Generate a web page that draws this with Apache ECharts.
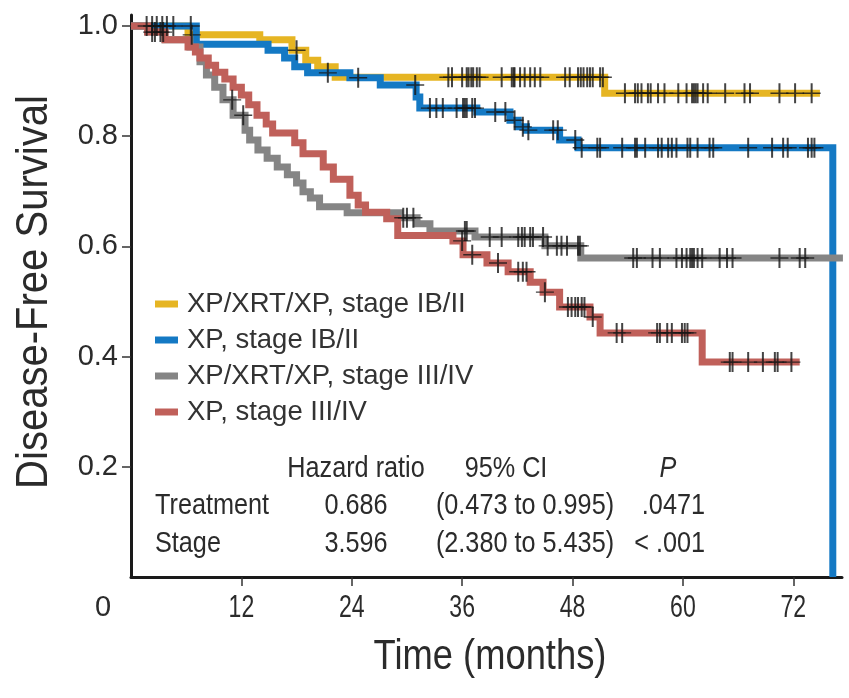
<!DOCTYPE html>
<html>
<head>
<meta charset="utf-8">
<script src="https://cdn.jsdelivr.net/npm/echarts@6/dist/echarts.min.js"></script>
<style>html,body{margin:0;padding:0;background:#fff}#c{width:849px;height:698px}</style>
</head>
<body>
<div id="c"></div>
<script>
// ---- Data (time in months, survival proportion) ----
const seriesNames = ['XP/XRT/XP, stage IB/II', 'XP, stage IB/II', 'XP/XRT/XP, stage III/IV', 'XP, stage III/IV'];

// step points: [time of event, survival after event]
const yellowSteps = [[0,1.0],[6.2,0.984],[14.0,0.975],[17.5,0.956],[19.0,0.938],[20.3,0.926],[22.2,0.907],[51.5,0.878]];
const yellowEnd = 74.9;
const yellowCensor = [1.7,2.8,3.9,6.6,18.0,34.5,34.9,36.0,36.5,36.7,37.0,37.2,37.6,37.9,40.3,41.4,41.6,41.7,42.3,42.8,43.4,43.9,44.5,47.2,47.7,48.6,48.9,49.2,49.6,49.9,50.2,51.0,51.3,53.7,54.8,55.1,55.5,56.2,56.5,57.3,58.0,59.5,60.4,61.0,61.2,61.4,61.6,62.2,62.7,64.6,66.7,67.3,70.5,72.2,74.0];

const blueSteps = [[0,1.0],[7.1,0.967],[14.9,0.956],[16.7,0.942],[17.8,0.926],[19.2,0.915],[23.8,0.906],[27.1,0.893],[31.0,0.871],[31.4,0.851],[37.6,0.844],[41.2,0.829],[42.1,0.817],[43.0,0.811],[46.6,0.793],[48.6,0.779],[76.3,0.0]];
const blueCensor = [2.3,3.4,4.6,6.5,21.4,24.7,30.9,32.5,33.2,33.9,35.4,36.1,36.3,36.5,37.1,37.4,39.6,40.7,41.7,42.6,43.2,45.9,46.4,48.3,49.0,50.7,51.0,53.4,54.8,55.0,55.9,57.3,57.7,58.4,58.8,59.3,60.5,60.8,61.6,62.9,63.3,67.1,69.7,70.9,71.4,73.6,74.0,74.3];

const graySteps = [[0,1.0],[1.8,0.989],[3.7,0.975],[6.4,0.962],[7.5,0.935],[8.2,0.911],[9.1,0.889],[10.0,0.866],[11.1,0.838],[12.4,0.811],[12.9,0.793],[13.8,0.775],[14.8,0.760],[15.9,0.744],[17.0,0.730],[18.0,0.715],[18.7,0.699],[19.5,0.688],[20.5,0.672],[23.5,0.661],[29.2,0.652],[31.1,0.641],[32.5,0.628],[37.4,0.617],[45.0,0.601],[48.9,0.579]];
const grayEnd = 77.4;
const grayCensor = [2.6,3.2,11.0,12.2,29.6,30.0,30.7,36.3,36.5,39.0,40.3,42.1,42.5,42.8,43.4,43.7,44.8,45.3,46.3,46.8,47.4,48.6,48.8,54.6,55.0,56.7,57.5,59.3,59.9,60.4,60.8,61.0,61.2,61.6,62.1,64.0,64.8,65.4,70.5,72.7,73.3,77.4];

const redSteps = [[0,1.0],[1.8,0.989],[3.7,0.975],[6.2,0.962],[7.0,0.953],[7.5,0.942],[8.4,0.929],[9.2,0.916],[10.2,0.904],[11.1,0.889],[12.0,0.875],[12.8,0.857],[13.7,0.838],[14.7,0.822],[15.4,0.806],[17.8,0.788],[18.7,0.768],[20.9,0.744],[22.0,0.722],[23.8,0.693],[24.7,0.675],[25.5,0.662],[27.8,0.650],[29.0,0.620],[35.0,0.610],[36.1,0.585],[38.7,0.570],[41.0,0.554],[43.4,0.535],[44.8,0.517],[46.6,0.490],[49.9,0.472],[51.0,0.443],[62.1,0.390]];
const redEnd = 72.7;
const redCensor = [2.3,3.5,36.0,37.1,39.9,42.1,42.6,43.0,45.0,47.5,47.9,48.3,48.6,49.0,49.3,50.2,52.8,53.4,57.2,57.5,58.3,58.8,59.9,60.2,60.5,65.1,65.4,67.1,68.7,70.0,70.3,71.8];

const xTicks = [12, 24, 36, 48, 60, 72];
const yTicks = [0.2, 0.4, 0.6, 0.8, 1.0];
const xOriginLabel = '0';
const xTitle = 'Time (months)';
const yTitle = 'Disease-Free Survival';

const tableHeader = ['Hazard ratio', '95% CI', 'P'];
const tableRowLabels = ['Treatment', 'Stage'];
const hazardRatios = ['0.686', '3.596'];
const confIntervals = ['(0.473 to 0.995)', '(2.380 to 5.435)'];
const pValues = ['.0471', '< .001'];

// ---- Build ----
const colors = ['#E6B523', '#1479C4', '#858585', '#C0605A'];

function withEnd(steps, end) {
  const d = steps.slice();
  if (end != null) d.push([end, steps[steps.length - 1][1]]);
  return d;
}
function survAt(steps, t) {
  let s = steps[0][1];
  for (const p of steps) { if (p[0] <= t) s = p[1]; else break; }
  return s;
}
function censorData(steps, times) { return times.map(t => [t, survAt(steps, t)]); }

const lineData = [withEnd(yellowSteps, yellowEnd), withEnd(blueSteps, null), withEnd(graySteps, grayEnd), withEnd(redSteps, redEnd)];
const allSteps = [yellowSteps, blueSteps, graySteps, redSteps];
const allCensor = [yellowCensor, blueCensor, grayCensor, redCensor];

const plusSymbol = 'path://M8,0h2v20h-2z M0,9.3h18v1.4h-18z';

const series = [];
seriesNames.forEach((n, i) => {
  series.push({
    name: n, type: 'line', step: 'end', data: lineData[i], symbol: 'none',
    color: colors[i], z: 2 + i,
    lineStyle: { width: 7, color: colors[i], cap: 'butt', join: 'miter' },
    animation: false
  });
});
allCensor.forEach((c, i) => {
  series.push({
    name: 'censor' + i, type: 'scatter', data: censorData(allSteps[i], c),
    symbol: plusSymbol, symbolSize: [18, 20], itemStyle: { color: '#151515' }, z: 10,
    animation: false, silent: true
  });
});

const SANS = '"Liberation Sans", Arial, sans-serif';
const chart = echarts.init(document.getElementById('c'), null, { renderer: 'canvas' });
chart.setOption({
  animation: false,
  backgroundColor: '#fff',
  grid: { left: 131, right: 7, top: 15, bottom: 121, containLabel: false },
  legend: {
    data: seriesNames, orient: 'vertical', left: 150, top: 284,
    icon: 'rect', itemWidth: 23, itemHeight: 7, itemGap: 6,
    textStyle: { fontFamily: 'Liberation Sans', fontSize: 27.5, color: '#333', lineHeight: 30, padding: [0, 0, 0, 4] },
    selectedMode: false
  },
  xAxis: {
    type: 'value', min: 0, max: 77.3,
    axisLine: { show: true, onZero: false, lineStyle: { color: '#1a1a1a', width: 3 } },
    axisTick: { show: true, customValues: xTicks, length: 9, lineStyle: { color: '#333', width: 1.5 } },
    axisLabel: { show: false },
    splitLine: { show: false }
  },
  yAxis: {
    type: 'value', min: 0, max: 1.02,
    axisLine: { show: true, onZero: false, lineStyle: { color: '#1a1a1a', width: 3 } },
    axisTick: { show: true, customValues: yTicks, length: 9, lineStyle: { color: '#333', width: 1.5 } },
    axisLabel: { customValues: yTicks, formatter: v => v.toFixed(1), fontFamily: 'Liberation Sans', fontSize: 29, color: '#2b2b2b', margin: 13 },
    splitLine: { show: false }
  },
  series: series
});

// condensed-looking text: real text, horizontally compressed
function ctext(x, y, text, size, sx, align, extra) {
  return Object.assign({
    type: 'text', x: x, y: y, scaleX: sx, z: 20, silent: true,
    style: { text: text, font: size + 'px ' + SANS, fill: '#2b2b2b', align: align, verticalAlign: 'middle' }
  }, extra || {});
}
const g = [];
const x0 = chart.convertToPixel({ xAxisIndex: 0 }, 0);
const yBase = chart.convertToPixel({ yAxisIndex: 0 }, 0);
xTicks.forEach(v => {
  g.push(ctext(chart.convertToPixel({ xAxisIndex: 0 }, v), yBase + 31, String(v), 32, 0.72, 'center'));
});
g.push({ type: 'text', x: x0 - 28, y: yBase + 31, silent: true,
  style: { text: xOriginLabel, font: '29px ' + SANS, fill: '#2b2b2b', align: 'center', verticalAlign: 'middle' } });
g.push(ctext(490, 657, xTitle, 43, 0.845, 'center'));
g.push(ctext(35, 292, yTitle, 44, 0.91, 'center', { rotation: Math.PI / 2 }));

const TS = 29, TSX = 0.87;
const colX = [356, 506, 668];
g.push(ctext(colX[0], 469, tableHeader[0], TS, TSX, 'center'));
g.push(ctext(colX[1], 469, tableHeader[1], TS, TSX, 'center'));
g.push({ type: 'text', x: colX[2], y: 469, scaleX: TSX, silent: true,
  style: { text: tableHeader[2], font: 'italic ' + TS + 'px ' + SANS, fill: '#2b2b2b', align: 'center', verticalAlign: 'middle' } });
[506, 544].forEach((yy, r) => {
  g.push(ctext(155, yy, tableRowLabels[r], TS, TSX, 'left'));
  g.push(ctext(356, yy, hazardRatios[r], TS, TSX, 'center'));
  g.push(ctext(525, yy, confIntervals[r], TS, TSX, 'center'));
  g.push(ctext(705, yy, pValues[r], TS, TSX, 'right'));
});
chart.setOption({ graphic: g });
</script>
</body>
</html>
